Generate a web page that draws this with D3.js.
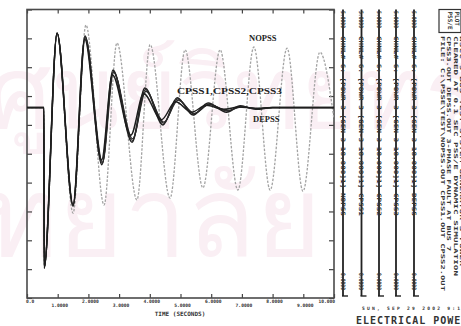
<!DOCTYPE html>
<html>
<head>
<meta charset="utf-8">
<script src="https://cdn.jsdelivr.net/npm/d3@7/dist/d3.min.js"></script>
<style>
  html, body { margin: 0; padding: 0; background: #fff; }
  svg { display: block; }
  .tick line { stroke: #444; stroke-width: 1.2; }
  .mono { font-family: "DejaVu Sans Mono", "Liberation Mono", monospace; font-weight: bold; fill: #333; }
  .serif { font-family: "Liberation Serif", "DejaVu Serif", serif; font-weight: bold; fill: #222; }
</style>
</head>
<body>
<svg id="chart" width="461" height="326"></svg>
<script>
// ---- time axis (seconds) ----
const timeTicks = [0, 1, 2, 3, 4, 5, 6, 7, 8, 9, 10];
const timeTickLabels = ["0.0", "1.0000", "2.0000", "3.0000", "4.0000", "5.0000",
                        "6.0000", "7.0000", "8.0000", "9.0000", "10.000"];
// ---- power scale divisions ----
const powerTicks = [0, 0.5, 1, 1.5, 2, 2.5, 3, 3.5, 4, 4.5, 5];
const powerMaxLabel = "5.0000";
const powerMinLabel = "0.0000";

// ---- electrical power, no PSS ----
const nopssTime  = [0, 0.55, 0.56, 0.98, 1.50, 1.92, 2.51, 2.93, 3.58, 4.01, 4.66, 5.15, 5.73, 6.29, 6.87, 7.39, 7.92, 8.47, 8.99, 9.54, 10.0];
const nopssPower = [3.30, 3.30, 0.52, 4.59, 1.47, 4.73, 1.61, 4.42, 1.70, 4.39, 1.73, 4.30, 1.91, 4.30, 1.87, 4.35, 1.87, 4.33, 1.85, 4.26, 3.10];

// ---- electrical power, conventional PSS (three settings) ----
const cpss1Time  = [0, 0.55, 0.56, 0.98, 1.50, 1.89, 2.44, 2.80, 3.42, 3.84, 4.43, 4.89, 5.41, 5.90, 6.50, 6.95, 7.45, 8.0, 10.0];
const cpss1Power = [3.30, 3.30, 0.52, 4.59, 1.59, 4.54, 2.31, 3.95, 2.70, 3.64, 3.00, 3.47, 3.17, 3.38, 3.22, 3.33, 3.27, 3.30, 3.30];
const cpss2Time  = [0, 0.55, 0.56, 0.98, 1.50, 1.89, 2.45, 2.81, 3.43, 3.86, 4.45, 4.91, 5.43, 5.93, 6.52, 6.98, 7.50, 8.0, 10.0];
const cpss2Power = [3.30, 3.30, 0.52, 4.59, 1.60, 4.53, 2.33, 3.93, 2.73, 3.61, 3.03, 3.45, 3.19, 3.36, 3.24, 3.32, 3.28, 3.30, 3.30];
const cpss3Time  = [0, 0.55, 0.56, 0.98, 1.50, 1.90, 2.46, 2.82, 3.44, 3.87, 4.46, 4.92, 5.45, 5.94, 6.54, 7.00, 7.55, 8.0, 10.0];
const cpss3Power = [3.30, 3.30, 0.52, 4.59, 1.61, 4.51, 2.35, 3.91, 2.76, 3.58, 3.05, 3.43, 3.20, 3.35, 3.25, 3.31, 3.28, 3.30, 3.30];

// ---- electrical power, proposed PSS ----
const depssTime  = [0, 0.55, 0.56, 0.98, 1.50, 1.88, 2.43, 2.78, 3.38, 3.80, 4.38, 4.84, 5.36, 5.84, 6.40, 6.90, 7.40, 8.0, 10.0];
const depssPower = [3.30, 3.30, 0.52, 4.59, 1.62, 4.49, 2.39, 3.87, 2.82, 3.54, 3.09, 3.40, 3.22, 3.34, 3.27, 3.31, 3.29, 3.30, 3.30];

// ---- channel legend ----
const channelNames = ["NOPSS", "CPSS1", "CPSS2", "CPSS3", "DEPSS"];
const channelDesc = [
  "CHNL# 6: [POWR 3 [GEN-3  18.000]1]  NOPSS",
  "CHNL# 6: [POWR 3 [GEN-3  18.000]1]  CPSS1",
  "CHNL# 6: [POWR 3 [GEN-3  18.000]1]  CPSS2",
  "CHNL# 6: [POWR 3 [GEN-3  18.000]1]  CPSS3",
  "CHNL# 6: [POWR 3 [GEN-3  18.000]1]  DEPSS"
];
const infoLines = [
  "FILE: C:\\PSSE\\TEST\\NOPSS.OUT  CPSS1.OUT  CPSS2.OUT",
  "CPSS3.OUT  DEPSS.OUT   3-PHASE FAULT AT BUS 7",
  "CLEARED AT 0.1 SEC   PSS/E DYNAMIC SIMULATION",
  "WSCC 9 BUS TEST SYSTEM   GENERATOR 3 POWER"
];
const runDate = "SUN, SEP 29 2002    9:18";
const chartTitle = "ELECTRICAL POWER";
const xTitle = "TIME (SECONDS)";
const watermarkTop = "ศูนย์วิทยทรัพยากร";
const watermarkBottom = "จุฬาลงกรณ์มหาวิทยาลัย";

const series = [
  { name: "NOPSS", time: nopssTime, power: nopssPower, color: "#a3a3a3", width: 1.3, dash: "2.5,1.5" },
  { name: "CPSS1", time: cpss1Time, power: cpss1Power, color: "#1e1e1e", width: 1.5, dash: null },
  { name: "CPSS2", time: cpss2Time, power: cpss2Power, color: "#2a2a2a", width: 1.2, dash: null },
  { name: "CPSS3", time: cpss3Time, power: cpss3Power, color: "#2a2a2a", width: 1.2, dash: null },
  { name: "DEPSS", time: depssTime, power: depssPower, color: "#1e1e1e", width: 1.5, dash: null }
];

const svg = d3.select("#chart");
svg.append("rect").attr("width", 461).attr("height", 326).attr("fill", "#fff");

const plot = { left: 27, right: 334, top: 9.5, bottom: 298 };
const x = d3.scaleLinear().domain([0, 10]).range([plot.left, plot.right]);
const y = d3.scaleLinear().domain([0, 5]).range([plot.bottom, plot.top]);

// faint watermark behind the plot
const wm = svg.append("g").attr("fill", "#faeff4").attr("font-family", "Noto Sans, DejaVu Sans, sans-serif");
wm.append("text").attr("x", -12).attr("y", 128).attr("font-size", 100).text(watermarkTop);
wm.append("text").attr("x", 322).attr("y", 256).attr("text-anchor", "end").attr("font-size", 112).text(watermarkBottom);

// axes with inward ticks
const axisStyle = g => { g.select(".domain").remove(); g.selectAll("text").remove(); };
svg.append("g").attr("transform", `translate(0,${plot.bottom})`)
  .call(d3.axisBottom(x).tickValues(timeTicks).tickSizeInner(-4).tickSizeOuter(0)).call(axisStyle);
svg.append("g").attr("transform", `translate(0,${plot.top})`)
  .call(d3.axisTop(x).tickValues(timeTicks).tickSizeInner(-4).tickSizeOuter(0)).call(axisStyle);
svg.append("g").attr("transform", `translate(${plot.left},0)`)
  .call(d3.axisLeft(y).tickValues(powerTicks).tickSizeInner(-5).tickSizeOuter(0)).call(axisStyle);
svg.append("g").attr("transform", `translate(${plot.right},0)`)
  .call(d3.axisRight(y).tickValues(powerTicks).tickSizeInner(-5).tickSizeOuter(0)).call(axisStyle);

// frame
svg.append("rect")
  .attr("x", plot.left).attr("y", plot.top)
  .attr("width", plot.right - plot.left).attr("height", plot.bottom - plot.top)
  .attr("fill", "none").attr("stroke", "#4a4a4a").attr("stroke-width", 1.6);

// staggered time labels
svg.append("g").selectAll("text").data(timeTicks).join("text")
  .attr("class", "mono")
  .attr("font-size", 4.6)
  .attr("text-anchor", (d, i) => i === 0 ? "start" : (i === timeTicks.length - 1 ? "end" : "middle"))
  .attr("x", (d, i) => i === 0 ? x(d) - 1 : (i === timeTicks.length - 1 ? x(d) + 1 : x(d) + 2))
  .attr("y", (d, i) => plot.bottom + (i % 2 === 0 ? 4.5 : 8.5))
  .text((d, i) => timeTickLabels[i]);

svg.append("text").attr("class", "mono").attr("font-size", 6)
  .attr("x", 180).attr("y", 315.5).attr("text-anchor", "middle")
  .text(xTitle);

// curves
const line = d3.line().x(d => x(d[0])).y(d => y(d[1])).curve(d3.curveMonotoneX);
svg.append("clipPath").attr("id", "plotclip").append("rect")
  .attr("x", plot.left).attr("y", plot.top)
  .attr("width", plot.right - plot.left).attr("height", plot.bottom - plot.top);
svg.append("g").attr("clip-path", "url(#plotclip)")
  .selectAll("path").data(series).join("path")
  .attr("d", s => line(s.time.map((t, i) => [t, s.power[i]])))
  .attr("fill", "none")
  .attr("stroke", s => s.color)
  .attr("stroke-width", s => s.width)
  .attr("stroke-dasharray", s => s.dash)
  .attr("stroke-linejoin", "round");

// curve labels
svg.append("text").attr("class", "serif").attr("font-size", 8.5).attr("x", 249).attr("y", 40.5).text("NOPSS");
svg.append("text").attr("class", "serif").attr("font-size", 8.5).attr("x", 177).attr("y", 93.5)
  .attr("textLength", 105).attr("lengthAdjust", "spacingAndGlyphs").text("CPSS1,CPSS2,CPSS3");
svg.append("text").attr("class", "serif").attr("font-size", 8.5).attr("x", 253).attr("y", 121.5).text("DEPSS");

// channel legend columns
const colX = [343, 361.5, 379, 396, 414];
const cols = svg.append("g").selectAll("g").data(channelNames).join("g")
  .attr("transform", (d, i) => `translate(${colX[i]},0)`);
cols.append("line").attr("x1", 0).attr("x2", 0).attr("y1", 9.5).attr("y2", 296)
  .attr("stroke", "#222").attr("stroke-width", 1.8);
cols.append("line").attr("x1", -1).attr("x2", 5).attr("y1", 296).attr("y2", 296)
  .attr("stroke", "#222").attr("stroke-width", 1.4);
const rot = (ty) => `translate(-2.4,${ty}) rotate(90)`;
cols.append("text").attr("class", "mono").attr("font-size", 6).attr("fill", "#222").attr("transform", rot(11))
  .attr("textLength", 17).attr("lengthAdjust", "spacingAndGlyphs").text(powerMaxLabel);
cols.append("text").attr("class", "mono").attr("font-size", 6).attr("fill", "#222").attr("transform", rot(36))
  .attr("textLength", 180).attr("lengthAdjust", "spacingAndGlyphs")
  .text((d, i) => channelDesc[i]);
cols.append("text").attr("class", "mono").attr("font-size", 6).attr("fill", "#222").attr("transform", rot(273))
  .attr("textLength", 17).attr("lengthAdjust", "spacingAndGlyphs").text(powerMinLabel);

// run information block
svg.append("rect").attr("x", 439).attr("y", 9.5).attr("width", 22).attr("height", 23)
  .attr("fill", "none").attr("stroke", "#333").attr("stroke-width", 1.2);
svg.append("text").attr("class", "mono").attr("font-size", 6).attr("transform", "translate(448,11.5) rotate(90)").text("PSS/E");
svg.append("text").attr("class", "mono").attr("font-size", 6).attr("transform", "translate(455,11.5) rotate(90)").text("PLOT");
svg.append("g").selectAll("text").data(infoLines).join("text")
  .attr("class", "mono").attr("font-size", 5.2)
  .attr("transform", (d, i) => `translate(${441 + i * 6.3},36) rotate(90)`)
  .attr("textLength", (d, i) => [255, 215, 240, 230][i]).attr("lengthAdjust", "spacingAndGlyphs")
  .text(d => d);

svg.append("text").attr("class", "mono").attr("font-size", 4.6).attr("x", 362).attr("y", 310)
  .attr("textLength", 103).attr("lengthAdjust", "spacing").text(runDate);
svg.append("text").attr("class", "mono").attr("font-size", 10).attr("x", 356).attr("y", 323.5)
  .attr("letter-spacing", 1).attr("fill", "#222").text(chartTitle);
</script>
</body>
</html>
